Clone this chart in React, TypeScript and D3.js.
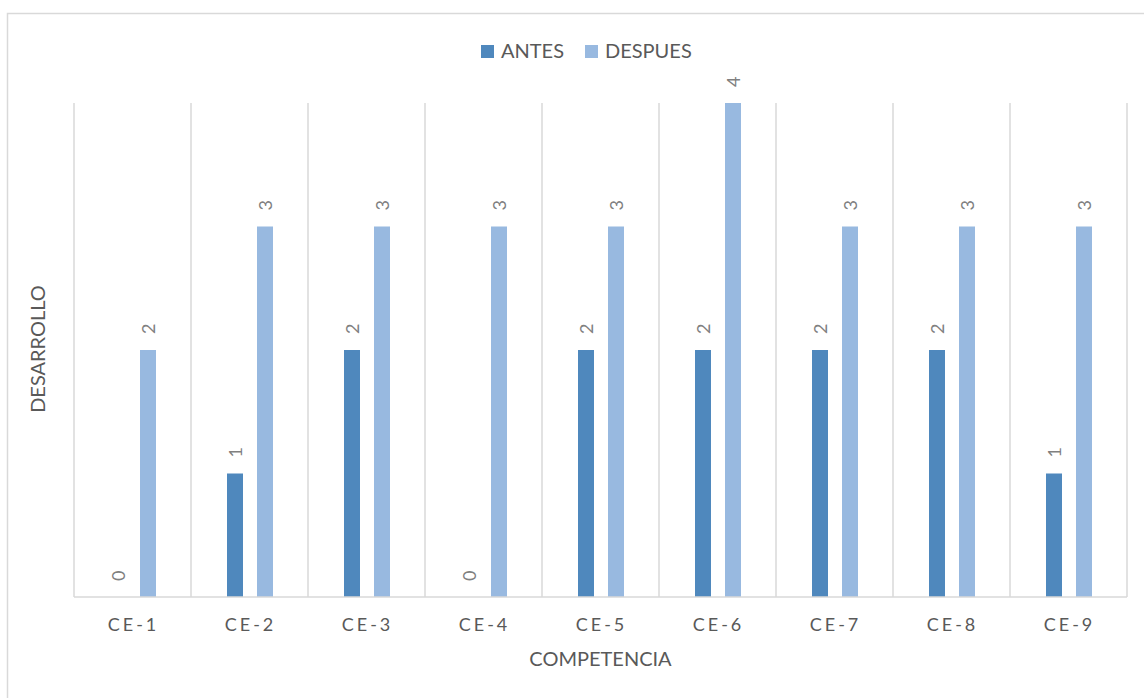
import * as d3 from "d3";
import { useRef, useEffect } from "react";

const categories = ["CE-1", "CE-2", "CE-3", "CE-4", "CE-5", "CE-6", "CE-7", "CE-8", "CE-9"];
const series = ["ANTES", "DESPUES"];
const antes = [0, 1, 2, 0, 2, 2, 2, 2, 1];
const despues = [2, 3, 3, 3, 3, 4, 3, 3, 3];
const colors = ["#4f88bd", "#98b9e0"];

export default function App() {
  const ref = useRef<SVGSVGElement | null>(null);
  const width = 1144, height = 698;
  const margin = { left: 74, right: 17, top: 103, bottom: 102 };

  useEffect(() => {
    const svg = d3.select(ref.current);
    svg.selectAll("*").remove();
    const font = "Lato, 'Open Sans', sans-serif";

    // chart border
    svg.append("rect")
      .attr("x", 7.5).attr("y", 13.5)
      .attr("width", width + 20).attr("height", height + 20)
      .attr("fill", "white").attr("stroke", "#d9d9d9").attr("stroke-width", 1.5);

    const x = d3.scaleBand().domain(categories).range([margin.left, width - margin.right]);
    const inner = d3.scaleBand().domain(series).range([36, 82]).paddingInner(0.4667);
    const y = d3.scaleLinear().domain([0, 4]).range([height - margin.bottom + 1, margin.top]);

    // vertical gridlines at category edges
    const edges = categories.map(c => x(c)!).concat([x(categories[categories.length - 1])! + x.bandwidth()]);
    svg.append("g").selectAll("line").data(edges).join("line")
      .attr("x1", d => d).attr("x2", d => d)
      .attr("y1", y(4)).attr("y2", y(0))
      .attr("stroke", "#d9d9d9").attr("stroke-width", 1.5);

    // bars
    const rows = categories.map((c, i) => ({ cat: c, vals: [antes[i], despues[i]] }));
    const groups = svg.append("g").selectAll("g").data(rows).join("g")
      .attr("transform", d => `translate(${x(d.cat)},0)`);

    groups.selectAll("rect").data(d => d.vals.map((v, j) => ({ v, s: series[j], j }))).join("rect")
      .attr("x", d => inner(d.s)!)
      .attr("width", inner.bandwidth())
      .attr("y", d => y(d.v))
      .attr("height", d => y(0) - y(d.v))
      .attr("fill", d => colors[d.j]);

    // value labels
    groups.selectAll("text").data(d => d.vals.map((v, j) => ({ v, s: series[j] }))).join("text")
      .attr("transform", d => `translate(${inner(d.s)! + inner.bandwidth() / 2},${y(d.v) - 16}) rotate(-90)`)
      .attr("dominant-baseline", "central")
      .attr("text-anchor", "start")
      .style("font", `18px ${font}`)
      .attr("fill", "#808080")
      .text(d => d.v);

    // baseline
    svg.append("line")
      .attr("x1", margin.left).attr("x2", width - margin.right)
      .attr("y1", y(0)).attr("y2", y(0))
      .attr("stroke", "#d9d9d9").attr("stroke-width", 1.5);

    // category labels
    svg.append("g").selectAll("text").data(categories).join("text")
      .attr("x", d => x(d)! + x.bandwidth() / 2 + 1)
      .attr("y", 631)
      .attr("text-anchor", "middle")
      .style("font", `18px ${font}`)
      .style("letter-spacing", "3px")
      .attr("fill", "#595959")
      .text(d => d);

    // axis titles
    svg.append("text")
      .attr("x", (margin.left + width - margin.right) / 2)
      .attr("y", 666)
      .attr("text-anchor", "middle")
      .style("font", `20px ${font}`)
      .attr("fill", "#595959")
      .text("COMPETENCIA");

    svg.append("text")
      .attr("transform", `translate(45,${y(2) - 1}) rotate(-90)`)
      .attr("text-anchor", "middle")
      .style("font", `20px ${font}`)
      .attr("fill", "#595959")
      .text("DESARROLLO");

    // legend
    const legendX = [481, 585];
    const legend = svg.append("g").selectAll("g").data(series).join("g")
      .attr("transform", (d, i) => `translate(${legendX[i]},45)`);
    legend.append("rect")
      .attr("width", 13).attr("height", 13)
      .attr("fill", (d, i) => colors[i]);
    legend.append("text")
      .attr("x", 20).attr("y", 13)
      .style("font", `20px ${font}`)
      .attr("fill", "#595959")
      .text(d => d);
  }, []);

  return (
    <svg ref={ref} width={width} height={height}
      style={{ position: "absolute", left: 0, top: 0, background: "white" }} />
  );
}
